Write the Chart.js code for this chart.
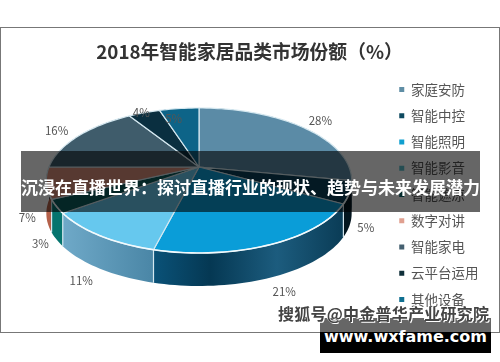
<!DOCTYPE html>
<html>
<head>
<meta charset="utf-8">
<title>2018年智能家居品类市场份额</title>
<style>
    html, body { margin: 0; padding: 0; background: #fff; }
    #wrap { position: relative; width: 500px; height: 362px; overflow: hidden; }
    #frame { position: absolute; left: 0; top: 27px; width: 498px; height: 304px; border: 1px solid #777; background: #fff; }
    #box { position: absolute; left: 0; top: 0; width: 500px; height: 362px; filter: blur(0.4px); }
    .band { position: absolute; left: 21px; top: 151px; width: 459px; height: 61px; background: rgba(0,0,0,.6);
        color: #fff; font: bold 17px "Noto Sans CJK SC"; line-height: 71px; white-space: nowrap; }
    .site { position: absolute; left: 320px; top: 318px; width: 171px; height: 35px; background: linear-gradient(#666 0, #666 14.5px, #000 14.5px); color: #fff;
        font: bold 16px "DejaVu Sans"; line-height: 38px; text-align: center; white-space: nowrap; }
    .mark { position: absolute; left: 278px; top: 301px; font: bold 16px "Noto Sans CJK SC"; color: #444; text-shadow: 1px 1px 0 #fff, -1px -1px 0 #fff; white-space: nowrap; letter-spacing: .25px; }
</style>
</head>
<body>
<div id="wrap">
    <div id="frame"></div>
    <div id="box"><canvas id="pie" width="500" height="362"></canvas></div>
    <div class="band">沉浸在直播世界：探讨直播行业的现状、趋势与未来发展潜力</div>
    <div class="site">www.wxfame.com</div>
    <div class="mark">搜狐号@中金普华产业研究院</div>
</div>

<script src="https://cdn.jsdelivr.net/npm/chart.js"></script>
<script>
const categories = ['家庭安防', '智能中控', '智能照明', '智能影音', '智能遮凉', '数字对讲', '智能家电', '云平台运用', '其他设备'];
const shares = [28, 5, 21, 11, 3, 7, 16, 4, 5];
const topColors = ['#5b8ba6', '#0b4058', '#0a9dd8', '#66c8ee', '#0b5c5e', '#d98f7c', '#3f5c6b', '#0a2f40', '#0d6488'];
const sideColors = ['#3f6a82', '#04161f', '#0a5278', '#4a86a6', '#05746e', '#b5614a', '#2c4350', '#061f2c', '#094a66'];
const legendColors = ['#5f8ea5', '#0e4a60', '#10a0d0', '#5cc0cc', '#0b6b70', '#e0a090', '#456070', '#0f2f3a', '#0f6f90'];

// how far out each % label sits, and whether it hangs below the rim
const labelReach = [1.2, 1.1, 1.15, 1.15, 1.1, 1.12, 1.2, 1, 0.8];
const labelBelow = [false, true, true, true, true, true, false, false, false];
const labelShift = [0, 0, 0, 0, 0, 0, 0, -3, -9];

// the flat pie is tilted with a simple perspective: hub, radii, tilt, thickness
const hubX = 199, hubY = 167, radX = 150, radY = 70, tilt = 0.186, depth = 33;

const project = (angle, r) => {
    const u = Math.cos(angle) * r, v = Math.sin(angle) * r;
    const w = 1 - tilt * v;
    return [hubX + radX * u / w, hubY + radY * v / w];
};

const rimPoints = (start, end) => {
    const pts = [];
    const n = Math.max(2, Math.ceil((end - start) / 0.03));
    for (let i = 0; i <= n; i++) pts.push(project(start + (end - start) * i / n, 1));
    return pts;
};

const sideFill = (ctx, pts, i) => {
    const grad = ctx.createLinearGradient(pts[0][0], 0, pts[pts.length - 1][0], 0);
    if (i === 2) {
        // the big front slice has a sheen on its side
        grad.addColorStop(0, '#0a3c56');
        grad.addColorStop(0.35, '#1c5c7e');
        grad.addColorStop(0.7, '#053853');
        grad.addColorStop(1, sideColors[i]);
    } else if (i === 3) {
        grad.addColorStop(0, sideColors[i]);
        grad.addColorStop(1, '#6fa9c8');
    } else {
        grad.addColorStop(0, sideColors[i]);
        grad.addColorStop(1, sideColors[i]);
    }
    return grad;
};

const tiltedPie = {
    id: 'tiltedPie',
    beforeDatasetDraw(chart) {
        const ctx = chart.ctx;
        const arcs = chart.getDatasetMeta(0).data;
        ctx.save();
        ctx.lineJoin = 'round';

        // thickness first, the top face covers what is behind it
        arcs.forEach((arc, i) => {
            const pts = rimPoints(arc.startAngle, arc.endAngle);
            ctx.beginPath();
            pts.forEach((p, k) => k ? ctx.lineTo(p[0], p[1]) : ctx.moveTo(p[0], p[1]));
            for (let k = pts.length - 1; k >= 0; k--) ctx.lineTo(pts[k][0], pts[k][1] + depth);
            ctx.closePath();
            ctx.fillStyle = sideFill(ctx, pts, i);
            ctx.fill();
        });

        // light seam at the front edge of each slice
        arcs.forEach(arc => {
            const p = project(arc.startAngle, 1);
            if (p[1] < hubY + 20) return;
            ctx.beginPath();
            ctx.moveTo(p[0], p[1]);
            ctx.lineTo(p[0], p[1] + depth);
            ctx.strokeStyle = '#d5e8f0';
            ctx.lineWidth = 1.2;
            ctx.stroke();
        });

        // top face
        arcs.forEach((arc, i) => {
            const pts = rimPoints(arc.startAngle, arc.endAngle);
            ctx.beginPath();
            ctx.moveTo(hubX, hubY);
            pts.forEach(p => ctx.lineTo(p[0], p[1]));
            ctx.closePath();
            ctx.fillStyle = topColors[i];
            ctx.fill();
            ctx.strokeStyle = '#d5e8f0';
            ctx.lineWidth = 1.2;
            ctx.stroke();
        });

        // brighter lip along the front of the rim
        arcs.forEach(arc => {
            const pts = rimPoints(arc.startAngle, arc.endAngle).filter(p => p[1] > hubY + 25);
            if (pts.length < 2) return;
            ctx.beginPath();
            pts.forEach((p, k) => k ? ctx.lineTo(p[0], p[1]) : ctx.moveTo(p[0], p[1]));
            ctx.strokeStyle = '#f2fafd';
            ctx.lineWidth = 1.6;
            ctx.stroke();
        });

        // % labels
        ctx.fillStyle = '#555';
        ctx.font = '11.5px "Noto Sans CJK SC"';
        ctx.textAlign = 'center';
        ctx.textBaseline = 'middle';
        arcs.forEach((arc, i) => {
            const p = project((arc.startAngle + arc.endAngle) / 2, labelReach[i]);
            ctx.fillText(shares[i] + '%', p[0] + labelShift[i], p[1] + (labelBelow[i] ? depth : 0));
        });
        ctx.restore();
        return false;
    }
};

new Chart(document.getElementById('pie').getContext('2d'), {
    type: 'pie',
    data: {
        labels: categories,
        datasets: [{ data: shares, backgroundColor: legendColors, borderWidth: 0 }]
    },
    plugins: [tiltedPie],
    options: {
        responsive: false,
        animation: false,
        layout: { padding: { top: 27, right: 11.5, bottom: 0, left: 10.5 } },
        plugins: {
            tooltip: { enabled: false },
            title: {
                display: true,
                text: '2018年智能家居品类市场份额（%）',
                color: '#333',
                font: { family: '"Noto Sans CJK SC"', size: 18.8, weight: 'bold' },
                padding: { top: 14, bottom: 25 }
            },
            legend: {
                position: 'right',
                labels: {
                    color: '#555',
                    font: { family: '"Noto Sans CJK SC"', size: 13.5 },
                    boxWidth: 5,
                    boxHeight: 5,
                    padding: 12.75
                }
            }
        }
    }
});
</script>
</body>
</html>
